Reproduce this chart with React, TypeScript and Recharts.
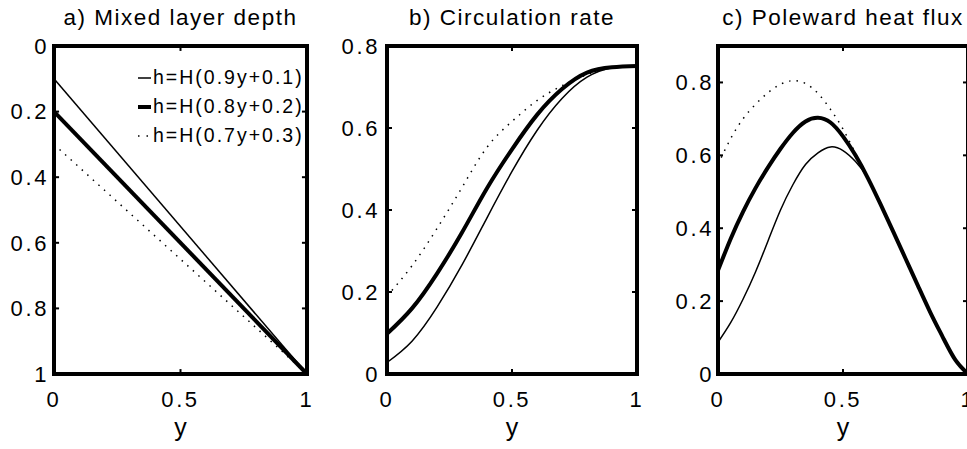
import { LineChart, Line, XAxis, YAxis, ReferenceArea, ReferenceLine, Legend } from 'recharts';

const FONT = '"Liberation Sans", Arial, Helvetica, sans-serif';
const INK = '#000000';

// a) Mixed layer depth (h/H), straight lines from y = 0 to y = 1
const depthY = [0, 1];
const depthThin = [0.1, 1];
const depthThick = [0.2, 1];
const depthDotted = [0.3, 1];

// b) Circulation rate
const circY = [0, 0.1, 0.2, 0.3, 0.4, 0.5, 0.6, 0.7, 0.8, 0.9, 1];
const circThin = [0.028, 0.08, 0.163, 0.266, 0.381, 0.494, 0.594, 0.672, 0.724, 0.747, 0.751];
const circThick = [0.098, 0.16, 0.245, 0.345, 0.453, 0.548, 0.632, 0.695, 0.735, 0.748, 0.751];
const circDotted = [0.19, 0.264, 0.355, 0.455, 0.553, 0.616, 0.667, 0.703, 0.73, 0.746, 0.751];

// c) Poleward heat flux
const fluxY = [
  0, 0.05, 0.1, 0.15, 0.2, 0.25, 0.3, 0.35, 0.4, 0.45, 0.5,
  0.55, 0.6, 0.65, 0.7, 0.75, 0.8, 0.85, 0.9, 0.95, 1,
];
const fluxThin = [
  0.087, 0.14, 0.205, 0.28, 0.365, 0.45, 0.52, 0.575, 0.607, 0.623, 0.613,
  0.583, 0.537, 0.466, 0.392, 0.317, 0.242, 0.168, 0.1, 0.038, 0,
];
const fluxThick = [
  0.284, 0.37, 0.445, 0.51, 0.567, 0.618, 0.662, 0.693, 0.703, 0.69, 0.652,
  0.6, 0.537, 0.466, 0.392, 0.317, 0.242, 0.168, 0.1, 0.038, 0,
];
const fluxDotted = [
  0.575, 0.645, 0.7, 0.74, 0.772, 0.795, 0.805, 0.797, 0.77, 0.726, 0.672,
  0.605, 0.537, 0.466, 0.392, 0.317, 0.242, 0.168, 0.1, 0.038, 0,
];

const xTicks = [0, 0.5, 1];
const depthTicks = [0, 0.2, 0.4, 0.6, 0.8, 1];
const circTicks = [0, 0.2, 0.4, 0.6, 0.8];
const fluxTicks = [0, 0.2, 0.4, 0.6, 0.8];

const legendLabels = ['h=H(0.9y+0.1)', 'h=H(0.8y+0.2)', 'h=H(0.7y+0.3)'];

const SERIES = [
  { key: 'thin', width: 1.5, dash: undefined },
  { key: 'thick', width: 4, dash: undefined },
  { key: 'dotted', width: 1.5, dash: '1.5 6' },
];

function toRows(ys: number[], thin: number[], thick: number[], dotted: number[]) {
  return ys.map((y, i) => ({ y, thin: thin[i], thick: thick[i], dotted: dotted[i] }));
}

const PLOT_TOP = 46;
const PLOT_BOTTOM = 374;
const HEIGHT = 449;
const Y_AXIS_W = 50;
const X_AXIS_H = 70;

const tickStyle = { fill: INK, fontSize: 22, fontFamily: FONT, letterSpacing: 2.6 };

function LegendBox() {
  return (
    <div style={{ fontFamily: FONT, fontSize: 19.5, letterSpacing: 2, color: INK }}>
      {legendLabels.map((label, i) => (
        <div key={label} style={{ display: 'flex', alignItems: 'center', height: 29 }}>
          <svg width={13} height={8} style={{ marginRight: 2 }}>
            <line
              x1={0}
              y1={4}
              x2={13}
              y2={4}
              stroke={INK}
              strokeWidth={SERIES[i].width}
              strokeDasharray={SERIES[i].dash ? '1.5 7' : undefined}
            />
          </svg>
          <span style={{ whiteSpace: 'nowrap' }}>{label}</span>
        </div>
      ))}
    </div>
  );
}

interface PanelProps {
  left: number;
  plotLeft: number;
  plotRight: number;
  title: string;
  rows: Array<Record<string, number>>;
  yDomain: [number, number];
  yTicks: number[];
  reversed?: boolean;
  curve: 'linear' | 'natural';
  yTickMargin: number;
  withLegend?: boolean;
}

function Panel({
  left,
  plotLeft,
  plotRight,
  title,
  rows,
  yDomain,
  yTicks,
  reversed,
  curve,
  yTickMargin,
  withLegend,
}: PanelProps) {
  const width = 330;
  const margin = {
    top: PLOT_TOP,
    bottom: HEIGHT - PLOT_BOTTOM - X_AXIS_H,
    left: plotLeft - left - Y_AXIS_W,
    right: left + width - plotRight,
  };
  const [yLo, yHi] = yDomain;
  // inward tick length, in data units (about 5px)
  const dx = 0.02;
  const dy = (yHi - yLo) * 0.015;
  return (
    <div style={{ position: 'absolute', left, top: 0, width, height: HEIGHT }}>
      <div
        style={{
          position: 'absolute',
          left: plotLeft - left,
          width: plotRight - plotLeft,
          top: 7,
          textAlign: 'center',
          fontFamily: FONT,
          fontSize: 22.5,
          lineHeight: '22px',
          letterSpacing: 1.5,
          color: INK,
          whiteSpace: 'nowrap',
        }}
      >
        {title}
      </div>
      <LineChart width={width} height={HEIGHT} data={rows} margin={margin}>
        <XAxis
          type="number"
          dataKey="y"
          domain={[0, 1]}
          ticks={xTicks}
          height={X_AXIS_H}
          axisLine={false}
          tickLine={false}
          tickSize={0}
          tickMargin={17}
          tick={tickStyle}
          label={{ value: 'y', position: 'insideBottom', offset: 8, fill: INK, fontSize: 25, fontFamily: FONT }}
        />
        <YAxis
          type="number"
          domain={yDomain}
          ticks={yTicks}
          reversed={reversed}
          width={Y_AXIS_W}
          axisLine={false}
          tickLine={false}
          tickSize={0}
          tickMargin={yTickMargin}
          tick={tickStyle}
        />
        {/* inward tick marks on the frame */}
        {yTicks.map((t) => (
          <ReferenceLine
            key={`l${t}`}
            segment={[{ x: 0, y: t }, { x: dx, y: t }]}
            stroke={INK}
            strokeWidth={2}
          />
        ))}
        {yTicks.map((t) => (
          <ReferenceLine
            key={`r${t}`}
            segment={[{ x: 1 - dx, y: t }, { x: 1, y: t }]}
            stroke={INK}
            strokeWidth={2}
          />
        ))}
        {xTicks.map((t) => (
          <ReferenceLine
            key={`b${t}`}
            segment={[{ x: t, y: yLo }, { x: t, y: yLo + dy }]}
            stroke={INK}
            strokeWidth={2}
          />
        ))}
        {xTicks.map((t) => (
          <ReferenceLine
            key={`t${t}`}
            segment={[{ x: t, y: yHi - dy }, { x: t, y: yHi }]}
            stroke={INK}
            strokeWidth={2}
          />
        ))}
        {SERIES.map((s) => (
          <Line
            key={s.key}
            type={curve}
            dataKey={s.key}
            stroke={INK}
            strokeWidth={s.width}
            strokeDasharray={s.dash}
            dot={false}
            activeDot={false}
            isAnimationActive={false}
          />
        ))}
        <ReferenceArea
          x1={0}
          x2={1}
          y1={yLo}
          y2={yHi}
          fill="none"
          stroke={INK}
          strokeWidth={4}
          ifOverflow="visible"
        />
        {withLegend && (
          <Legend
            layout="vertical"
            align="center"
            verticalAlign="middle"
            content={() => <LegendBox />}
            wrapperStyle={{ left: 138, top: 63, width: 180, right: 'auto', bottom: 'auto' }}
          />
        )}
      </LineChart>
    </div>
  );
}

export default function App() {
  return (
    <div
      style={{
        position: 'absolute',
        left: 0,
        top: 0,
        width: 967,
        height: HEIGHT,
        overflow: 'hidden',
        background: '#ffffff',
      }}
    >
      <Panel
        left={0}
        plotLeft={54}
        plotRight={307}
        title="a) Mixed layer depth"
        rows={toRows(depthY, depthThin, depthThick, depthDotted)}
        yDomain={[0, 1]}
        yTicks={depthTicks}
        reversed
        curve="linear"
        yTickMargin={5}
        withLegend
      />
      <Panel
        left={330}
        plotLeft={387}
        plotRight={637}
        title="b) Circulation rate"
        rows={toRows(circY, circThin, circThick, circDotted)}
        yDomain={[0, 0.8]}
        yTicks={circTicks}
        curve="natural"
        yTickMargin={7}
      />
      <Panel
        left={660}
        plotLeft={718}
        plotRight={968}
        title="c) Poleward heat flux"
        rows={toRows(fluxY, fluxThin, fluxThick, fluxDotted)}
        yDomain={[0, 0.9]}
        yTicks={fluxTicks}
        curve="natural"
        yTickMargin={4}
      />
    </div>
  );
}
